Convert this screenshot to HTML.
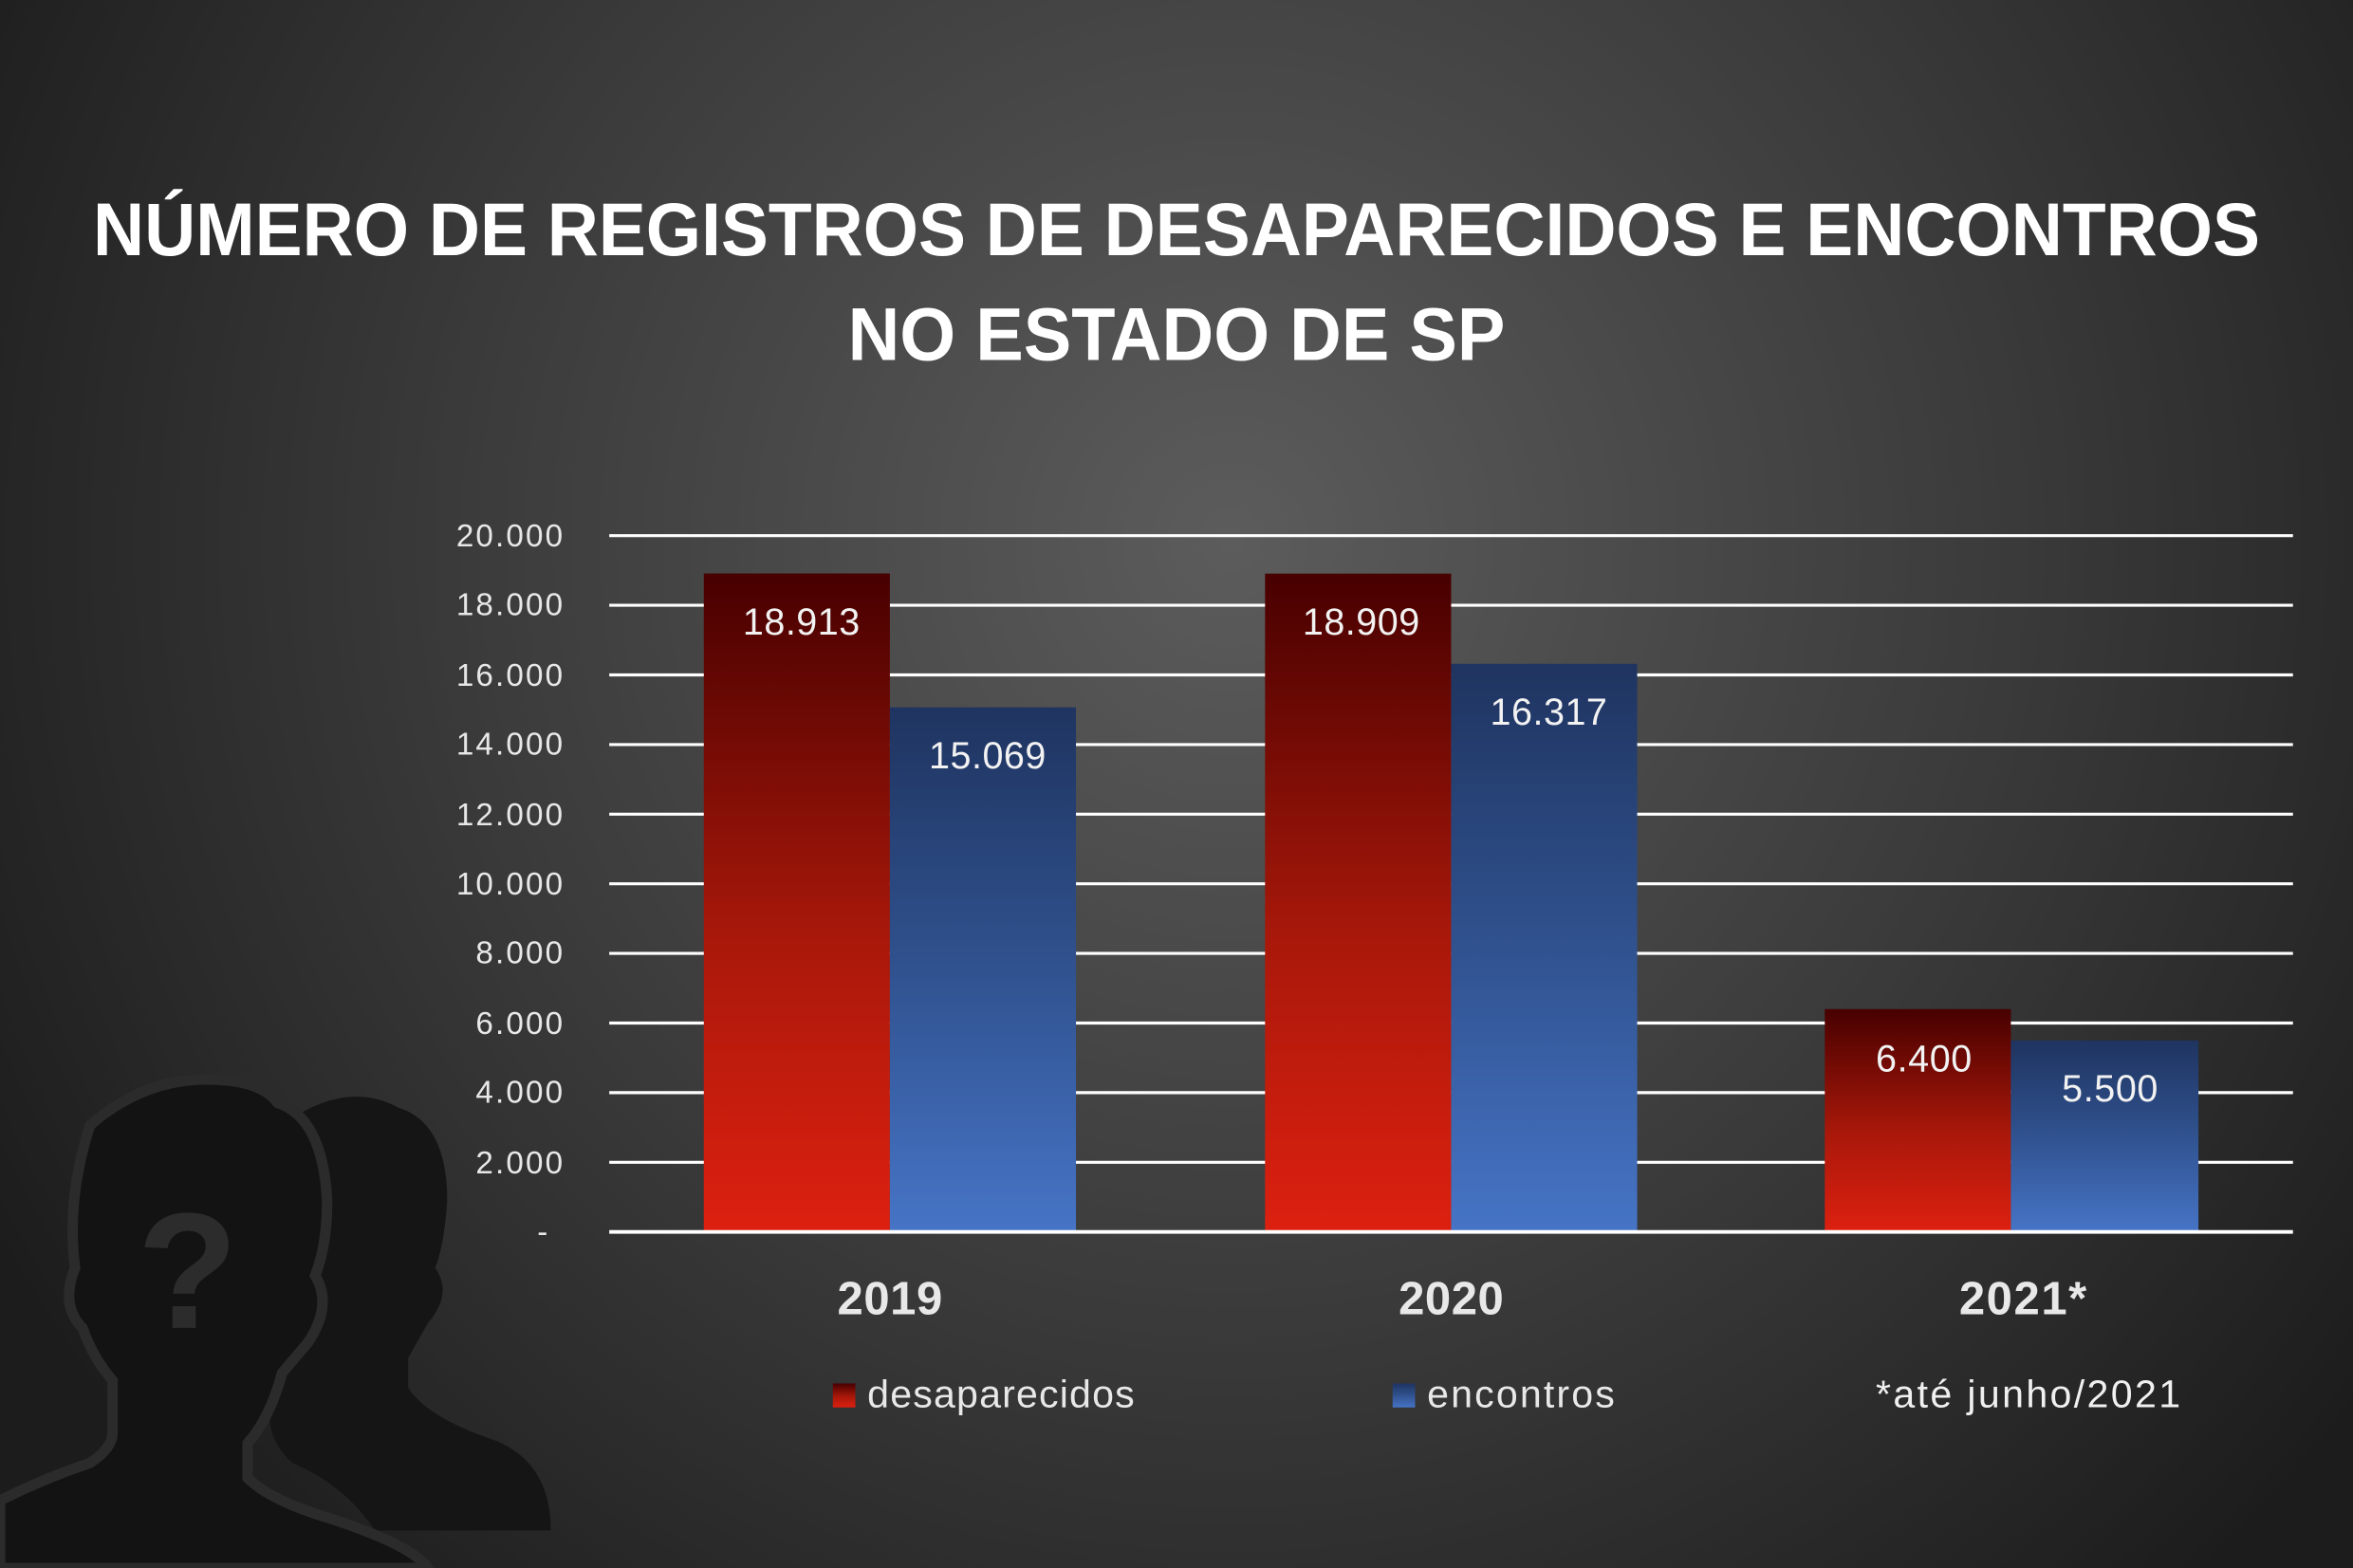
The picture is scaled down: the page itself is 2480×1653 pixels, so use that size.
<!DOCTYPE html>
<html><head><meta charset="utf-8"><style>html,body{margin:0;padding:0;background:#2a2a2a}svg{display:block}</style></head>
<body>
<svg width="2480" height="1653" viewBox="0 0 1568 1045" preserveAspectRatio="none" xmlns="http://www.w3.org/2000/svg" font-family="'Liberation Sans', sans-serif">
<defs>
<radialGradient id="bg" cx="820" cy="360" r="950" gradientUnits="userSpaceOnUse">
<stop offset="0" stop-color="#5c5c5c"/><stop offset="0.55" stop-color="#3a3a3a"/><stop offset="1" stop-color="#1c1c1c"/></radialGradient>
<linearGradient id="rd" x1="0" y1="0" x2="0" y2="1"><stop offset="0" stop-color="#470000"/><stop offset="0.55" stop-color="#a8180a"/><stop offset="1" stop-color="#dd2010"/></linearGradient>
<linearGradient id="bl" x1="0" y1="0" x2="0" y2="1"><stop offset="0" stop-color="#1f3460"/><stop offset="0.5" stop-color="#30528f"/><stop offset="1" stop-color="#4674c6"/></linearGradient>
</defs>
<rect width="1568" height="1045" fill="url(#bg)"/>
<path d="M200 742 Q235 722 265 738 Q298 748 298 800 Q296 830 290 845 Q302 862 285 882 L272 905 L272 925 Q285 945 330 960 Q367 975 367 1020 L250 1020 Q230 990 195 975 Q178 960 180 940 Z" fill="#151515"/>
<path d="M60 750 Q100 715 150 720 Q175 722 185 735 Q215 745 218 800 Q218 830 210 850 Q222 870 205 895 L188 915 Q180 945 165 962 L165 985 Q180 1000 220 1012 Q275 1030 285 1045 L0 1045 L0 1000 Q30 985 60 975 Q75 965 75 955 L75 920 Q62 905 55 885 Q40 870 50 845 Q44 800 60 750 Z" fill="#131313" stroke="#2b2b2b" stroke-width="7"/>
<text x="125" y="885" font-size="110" font-weight="bold" fill="#2c2c2c" text-anchor="middle">?</text>
<text x="784" y="170" font-size="50" font-weight="bold" fill="#fff" text-anchor="middle" textLength="1444" lengthAdjust="spacingAndGlyphs">NÚMERO DE REGISTROS DE DESAPARECIDOS E ENCONTROS</text>
<text x="784" y="240" font-size="50" font-weight="bold" fill="#fff" text-anchor="middle" textLength="438" lengthAdjust="spacingAndGlyphs">NO ESTADO DE SP</text>
<g stroke="#fff" stroke-width="2">
<line x1="406" x2="1528" y1="357" y2="357"/><line x1="406" x2="1528" y1="403.4" y2="403.4"/><line x1="406" x2="1528" y1="449.8" y2="449.8"/><line x1="406" x2="1528" y1="496.2" y2="496.2"/><line x1="406" x2="1528" y1="542.6" y2="542.6"/><line x1="406" x2="1528" y1="589" y2="589"/><line x1="406" x2="1528" y1="635.4" y2="635.4"/><line x1="406" x2="1528" y1="681.8" y2="681.8"/><line x1="406" x2="1528" y1="728.2" y2="728.2"/><line x1="406" x2="1528" y1="774.6" y2="774.6"/>
</g>
<g font-size="21" fill="#e8e8e8" text-anchor="end" lengthAdjust="spacingAndGlyphs">
<text x="375" y="364" textLength="71">20.000</text><text x="375" y="410" textLength="71">18.000</text><text x="375" y="457" textLength="71">16.000</text><text x="375" y="503" textLength="71">14.000</text><text x="375" y="550" textLength="71">12.000</text><text x="375" y="596" textLength="71">10.000</text><text x="375" y="642" textLength="58">8.000</text><text x="375" y="689" textLength="58">6.000</text><text x="375" y="735" textLength="58">4.000</text><text x="375" y="782" textLength="58">2.000</text><text x="365" y="828">-</text>
</g>
<rect x="469" y="382.2" width="124" height="438.8" fill="url(#rd)"/>
<rect x="593" y="471.4" width="124" height="349.6" fill="url(#bl)"/>
<rect x="843" y="382.3" width="124" height="438.7" fill="url(#rd)"/>
<rect x="967" y="442.4" width="124" height="378.6" fill="url(#bl)"/>
<rect x="1216" y="672.5" width="124" height="148.5" fill="url(#rd)"/>
<rect x="1340" y="693.4" width="125" height="127.6" fill="url(#bl)"/>
<line x1="406" x2="1528" y1="821" y2="821" stroke="#fff" stroke-width="2.5"/>
<g font-size="25" fill="#f2f2f2" text-anchor="middle">
<text x="534" y="423" textLength="78">18.913</text><text x="658" y="512" textLength="78">15.069</text>
<text x="907" y="423" textLength="78">18.909</text><text x="1032" y="483" textLength="78">16.317</text>
<text x="1282" y="714" textLength="64">6.400</text><text x="1406" y="734" textLength="64">5.500</text>
</g>
<g font-size="31" font-weight="bold" fill="#e8e8e8" text-anchor="middle">
<text x="593" y="876" textLength="70">2019</text><text x="967" y="876" textLength="70">2020</text><text x="1348" y="876" textLength="85">2021*</text>
</g>
<rect x="555" y="922" width="15" height="16" fill="url(#rd)"/>
<text x="578" y="938" font-size="26" fill="#e8e8e8" textLength="178">desaparecidos</text>
<rect x="928" y="922" width="15" height="16" fill="url(#bl)"/>
<text x="951" y="938" font-size="26" fill="#e8e8e8" textLength="125">encontros</text>
<text x="1250" y="938" font-size="26" fill="#f0f0f0" textLength="203">*até junho/2021</text>
</svg>
</body></html>
